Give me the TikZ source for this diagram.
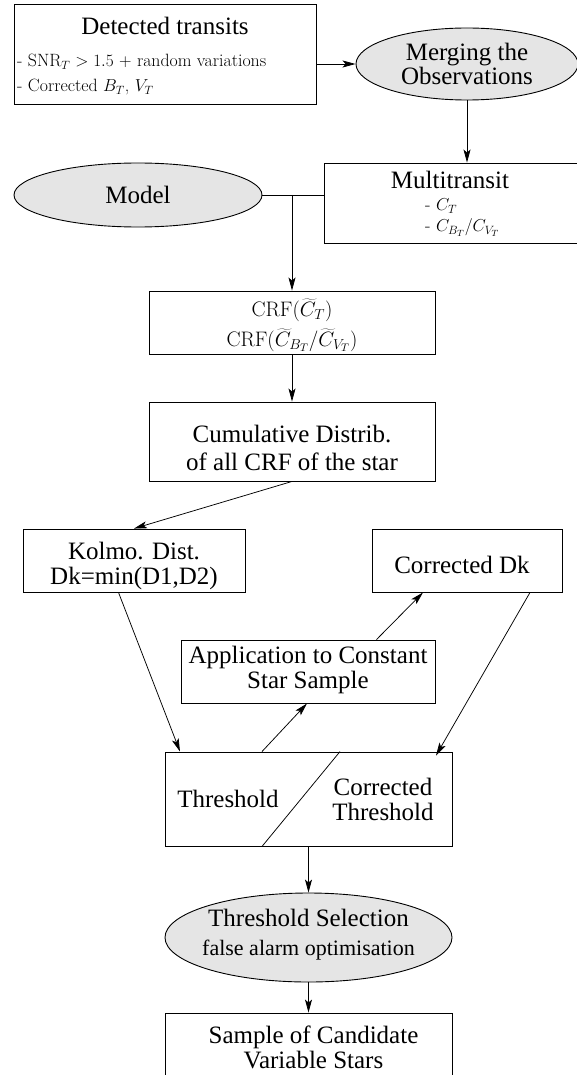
\documentclass[tikz,border=0pt]{standalone}
\usepackage{fontspec}
\setmainfont{Liberation Serif}
\newfontfamily\lmfont{Latin Modern Roman}
\usetikzlibrary{arrows.meta,shapes.geometric}
\tikzset{
  box/.style={draw, rectangle, line width=0.9pt, inner sep=0pt},
  oval/.style={draw, ellipse, fill=gray!20, line width=0.9pt, inner sep=0pt, align=center},
  txt/.style={inner sep=0pt, align=center, font=\fontsize{25}{25}\selectfont},
  cmtxt/.style={inner sep=0pt, font=\lmfont\fontsize{17.8}{20}\selectfont},
  arr/.style={line width=0.75pt, -{Stealth[length=13pt,width=7pt,inset=3pt]}},
  ln/.style={line width=0.75pt}
}
\begin{document}
\begin{tikzpicture}[x=1pt,y=-1pt]
\clip (0,0) rectangle (577,1075);
% Detected transits
\node[box, minimum width=302pt, minimum height=100pt] (det) at (165,54) {};
\node[txt] (dett) at (165,26) {Detected transits};
\node[cmtxt, anchor=base west] (det1) at (17,67) {- SNR$_T > 1.5$ $+$ random variations};
\node[cmtxt, anchor=base west] (det2) at (17,92) {- Corrected $B_T$, $V_T$};
% Merging
\node[oval, minimum width=222pt, minimum height=72pt, font=\fontsize{25}{24}\selectfont] (merge) at (467,64) {Merging the\\Observations};
% Model
\node[oval, minimum width=248pt, minimum height=64pt, font=\fontsize{25}{25}\selectfont] (model) at (138,195) {Model};
% Multitransit
\node[box, minimum width=254pt, minimum height=80pt] (multi) at (451,203) {};
\node[txt] (multit) at (450,180) {Multitransit};
\node[cmtxt, anchor=base west, font=\lmfont\fontsize{18}{20}\selectfont] (multi1) at (425,211) {- $C_T$};
\node[cmtxt, anchor=base west, font=\lmfont\fontsize{18}{20}\selectfont] (multi2) at (425,231.5) {- $C_{B_T}/C_{V_T}$};
% CRF
\node[box, minimum width=286pt, minimum height=63pt] (crf) at (292,322.5) {};
\node[cmtxt, anchor=base, font=\lmfont\fontsize{21}{24}\selectfont] (crf1) at (292,316) {CRF$(\widetilde{C}_T)$};
\node[cmtxt, anchor=base, font=\lmfont\fontsize{21}{24}\selectfont] (crf2) at (292,346) {CRF$(\widetilde{C}_{B_T}/\widetilde{C}_{V_T})$};
% Cumulative
\node[box, minimum width=286pt, minimum height=79pt] (cum) at (292,441.5) {};
\node[txt, font=\fontsize{25}{28}\selectfont] (cumt) at (292,448) {Cumulative Distrib.\\of all CRF of the star};
% Kolmo
\node[box, minimum width=222pt, minimum height=63pt] (kol) at (134,560.5) {};
\node[txt] (kolt) at (134,565.5) {Kolmo. Dist.\\Dk=min(D1,D2)};
% Corrected Dk
\node[box, minimum width=190pt, minimum height=63pt] (cdk) at (467,560.5) {};
\node[txt] (cdkt) at (462,564.5) {Corrected Dk};
% Application
\node[box, minimum width=254pt, minimum height=63pt] (app) at (308,671.5) {};
\node[txt] (appt) at (308,670) {Application to Constant\\Star Sample};
% Threshold
\node[box, minimum width=287pt, minimum height=94pt] (thr) at (308.5,799) {};
\node[txt] (thrl) at (228,798.5) {Threshold};
\node[txt] (thrr) at (383,799) {Corrected\\Threshold};
\draw[ln] ([xshift=31.5pt]thr.north) -- ([xshift=-46.5pt]thr.south);
% Threshold selection
\node[oval, minimum width=287pt, minimum height=89pt] (sel) at (308.5,937.5) {};
\node[txt, font=\fontsize{25}{29}\selectfont] (selt) at (308.5,935) {Threshold Selection\\\fontsize{22}{29}\selectfont false alarm optimisation};
% Sample
\node[box, minimum width=287pt, minimum height=90pt] (samp) at (308.5,1058) {};
\node[txt] (sampt) at (313.5,1047) {Sample of Candidate\\Variable Stars};
% connectors
\draw[arr] (det.east |- merge.west) -- (merge.west);
\draw[arr] (merge.south) -- (merge.south |- multi.north);
\draw[ln] (model.east) -- (model.east -| multi.west);
\coordinate (jn) at (crf.north |- model.east);
\draw[arr] (jn) -- (crf.north);
\draw[arr] (crf.south) -- (cum.north);
\draw[arr] (cum.south) -- (kol.north);
\draw[arr] ([xshift=-15.5pt]kol.south) -- ([xshift=-128.5pt]thr.north);
\draw[arr] ([xshift=-46.5pt]thr.north) -- ([xshift=-1pt]app.south);
\draw[arr] ([xshift=68.5pt]app.north) -- ([xshift=-44pt]cdk.south);
\draw[arr] ([xshift=63pt]cdk.south) -- ([xshift=127.5pt,yshift=-4pt]thr.north);
\draw[arr] (thr.south) -- (sel.north);
\draw[arr] (sel.south) -- (samp.north);
\end{tikzpicture}
\end{document}
